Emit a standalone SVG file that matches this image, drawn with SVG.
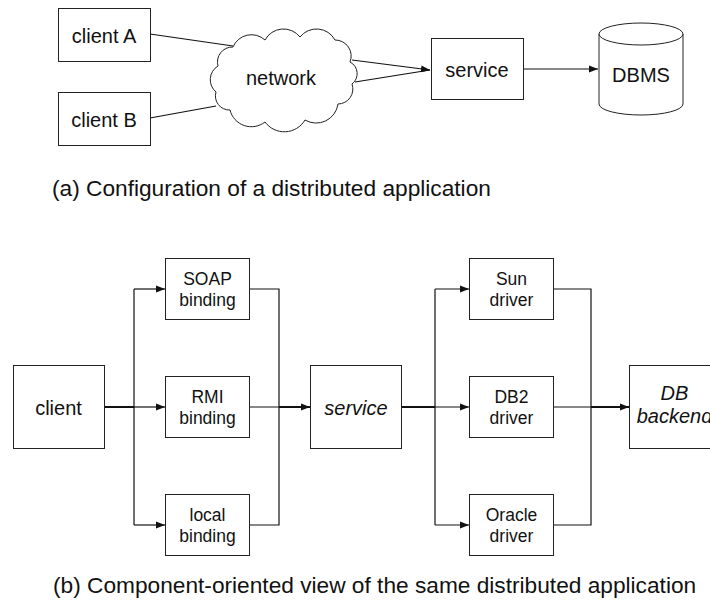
<svg xmlns="http://www.w3.org/2000/svg" width="710" height="603" viewBox="0 0 710 603">
<style>
.box{fill:#fff;stroke:#222;stroke-width:1}
.ln{fill:none;stroke:#111;stroke-width:1.2}
.th{fill:none;stroke:#111;stroke-width:2}
text{font-family:"Liberation Sans",Arial,sans-serif;fill:#111;text-anchor:middle}
.l20{font-size:20px}
.l17{font-size:17.5px}
.it{font-style:italic}
.cap{font-size:22.7px;text-anchor:start}
</style>
<defs>
<marker id="ah" markerUnits="userSpaceOnUse" markerWidth="10" markerHeight="8" refX="9" refY="4" orient="auto">
<path d="M0,0.5 L9,4 L0,7.5 z" fill="#111"/>
</marker>
</defs>
<rect width="710" height="603" fill="#fff"/>

<g id="connectors">
<path class="ln" d="M150,34 L233,46"/>
<path class="ln" d="M150,118 L216,106"/>
<path class="ln" d="M355,82 L430,70"/>
<path class="ln" d="M352,60 L430,70" marker-end="url(#ah)"/>
<path class="ln" d="M523,69 L598,69" marker-end="url(#ah)"/>

<path class="th" d="M104,407 L134,407"/>
<path class="ln" d="M134,289 L134,525"/>
<path class="ln" d="M134,289 L165,289" marker-end="url(#ah)"/>
<path class="ln" d="M134,407 L165,407" marker-end="url(#ah)"/>
<path class="ln" d="M134,525 L165,525" marker-end="url(#ah)"/>
<path class="ln" d="M249,289 L279,289 L279,525 L249,525 M249,407 L279,407"/>
<path class="th" d="M279,407 L310,407" marker-end="url(#ah)"/>

<path class="th" d="M401,407 L435,407"/>
<path class="ln" d="M435,289 L435,525"/>
<path class="ln" d="M435,289 L469,289" marker-end="url(#ah)"/>
<path class="ln" d="M435,407 L469,407" marker-end="url(#ah)"/>
<path class="ln" d="M435,525 L469,525" marker-end="url(#ah)"/>
<path class="ln" d="M553,289 L591,289 L591,525 L553,525 M553,407 L591,407"/>
<path class="th" d="M591,407 L629,407" marker-end="url(#ah)"/>
</g>

<g id="clientA"><rect class="box" x="58.5" y="8.5" width="92" height="53"/><text class="l20" x="104" y="43">client A</text></g>
<g id="clientB"><rect class="box" x="58.5" y="92.5" width="92" height="53"/><text class="l20" x="104" y="127">client B</text></g>
<g id="network">
<path class="box" d="M233,47 A20,20 0 0,1 265,40 A21,21 0 0,1 300,37 A21,21 0 0,1 335,40 A16,16 0 0,1 350,62 A13,13 0 0,1 352,84 A15,15 0 0,1 338,104 A22,22 0 0,1 305,120 A24,24 0 0,1 265,122 A22,22 0 0,1 230,110 A14,14 0 0,1 216,92 A16,16 0 0,1 218,66 A15,15 0 0,1 233,47 Z"/>
<text class="l20" x="281" y="85">network</text>
</g>
<g id="service"><rect class="box" x="431.5" y="38.5" width="92" height="61"/><text class="l20" x="477" y="77">service</text></g>
<g id="dbms">
<path class="box" d="M599,34 A42,11 0 0,1 683,34 L683,104 A42,11 0 0,1 599,104 Z"/>
<path class="box" d="M599,34 A42,11 0 0,0 683,34"/>
<text class="l20" x="641" y="82">DBMS</text>
</g>

<text class="cap" x="52" y="196">(a) Configuration of a distributed application</text>

<g id="client"><rect class="box" x="13.5" y="365.5" width="91" height="83"/><text class="l20" x="58.5" y="415">client</text></g>
<g id="soap"><rect class="box" x="165.5" y="258.5" width="84" height="61"/><text class="l17" x="207.5" y="285">SOAP</text><text class="l17" x="207.5" y="306">binding</text></g>
<g id="rmi"><rect class="box" x="165.5" y="376.5" width="84" height="61"/><text class="l17" x="207.5" y="403">RMI</text><text class="l17" x="207.5" y="424">binding</text></g>
<g id="local"><rect class="box" x="165.5" y="494.5" width="84" height="61"/><text class="l17" x="207.5" y="521">local</text><text class="l17" x="207.5" y="542">binding</text></g>
<g id="service2"><rect class="box" x="310.5" y="365.5" width="91" height="83"/><text class="l20 it" x="356" y="415">service</text></g>
<g id="sun"><rect class="box" x="469.5" y="258.5" width="84" height="61"/><text class="l17" x="511.5" y="285">Sun</text><text class="l17" x="511.5" y="306">driver</text></g>
<g id="db2"><rect class="box" x="469.5" y="376.5" width="84" height="61"/><text class="l17" x="511.5" y="403">DB2</text><text class="l17" x="511.5" y="424">driver</text></g>
<g id="oracle"><rect class="box" x="469.5" y="494.5" width="84" height="61"/><text class="l17" x="511.5" y="521">Oracle</text><text class="l17" x="511.5" y="542">driver</text></g>
<g id="dbbackend"><rect class="box" x="629.5" y="365.5" width="91" height="83"/><text class="l20 it" x="674.5" y="400">DB</text><text class="l20 it" x="674.5" y="423">backend</text></g>

<text class="cap" x="53" y="593">(b) Component-oriented view of the same distributed application</text>
</svg>
